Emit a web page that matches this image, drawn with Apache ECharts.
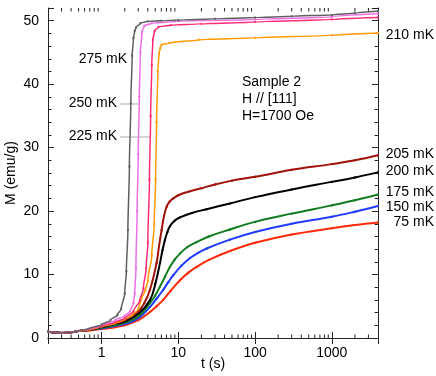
<!DOCTYPE html>
<html>
<head>
<meta charset="utf-8">
<script src="https://cdn.jsdelivr.net/npm/echarts@6/dist/echarts.min.js"></script>
<style>
html, body { margin: 0; padding: 0; background: #fff; }
#chart { width: 436px; height: 376px; }
</style>
</head>
<body>
<div id="chart"></div>
<script>
// t (s) vs M (emu/g)
const m275 = [[0.2,1.0],[0.25,0.85],[0.3,0.8],[0.4,0.9],[0.5,1.1],[0.7,1.5],[1.0,2.1],[1.3,2.8],[1.6,3.6],[1.8,4.6],[2.0,7.0],[2.1,10.5],[2.2,17],[2.3,27],[2.4,37],[2.5,44.5],[2.6,47.3],[2.7,48.4],[2.8,48.9],[3.2,49.6],[4,49.9],[6,50.0],[10,50.1],[30,50.3],[100,50.5],[300,50.7],[1000,50.9],[2000,51.2],[4000,51.5]];
const m250 = [[0.2,1.0],[0.25,0.85],[0.3,0.8],[0.4,0.9],[0.5,1.1],[0.7,1.4],[1.0,2.0],[1.5,2.8],[2.0,3.5],[2.35,4.2],[2.6,5.5],[2.7,7],[2.8,11],[2.9,20],[3.0,29],[3.1,38],[3.2,45],[3.35,48.2],[3.6,49.2],[4.5,49.6],[10,49.9],[100,50.2],[1000,50.6],[4000,51.1]];
const m225 = [[0.2,1.0],[0.25,0.85],[0.3,0.8],[0.4,0.9],[0.5,1.1],[0.7,1.4],[1.0,1.9],[1.5,2.5],[2.0,3.1],[2.6,4.2],[3.16,6.0],[3.5,7.8],[3.8,11],[4.0,15],[4.2,25],[4.35,35],[4.5,43],[4.65,47],[4.9,48.4],[5.5,49.0],[8,49.3],[20,49.5],[100,49.8],[1000,50.2],[4000,50.5]];
const m210 = [[0.2,1.0],[0.25,0.85],[0.3,0.8],[0.4,0.9],[0.5,1.1],[0.7,1.3],[1.0,1.8],[1.5,2.3],[2.0,2.9],[2.5,3.6],[3.0,4.5],[3.3,6.2],[3.7,7.5],[4.0,9],[4.5,13],[4.85,18],[5.05,25],[5.2,34],[5.4,42],[5.6,44.8],[5.8,45.7],[6.05,46.2],[7.7,46.5],[19,47.0],[100,47.3],[1000,47.7],[4000,48.05]];
const m205 = [[0.2,1.0],[0.25,0.85],[0.3,0.8],[0.4,0.9],[0.5,1.1],[0.7,1.3],[1.0,1.8],[1.5,2.3],[2.0,2.8],[3.0,4.2],[3.6,5.5],[4.27,7.6],[5.2,11.8],[5.6,14.5],[6.05,17.0],[6.5,19.2],[7.04,20.7],[7.7,21.5],[8.6,22.0],[10,22.5],[14,23.1],[20,23.6],[30,24.2],[50,24.8],[100,25.4],[300,26.5],[1000,27.4],[2000,28.0],[4000,28.8]];
const m200 = [[0.2,1.0],[0.25,0.85],[0.3,0.8],[0.4,0.9],[0.5,1.1],[0.7,1.3],[1.0,1.7],[1.5,2.2],[2.0,2.6],[3.0,3.8],[4.27,6.0],[5.0,8.5],[5.76,11.8],[6.2,13.8],[6.7,15.5],[7.2,16.7],[7.76,17.6],[9,18.5],[10.5,19.0],[15,19.7],[23.4,20.3],[47,21.2],[100,22.2],[300,23.4],[1000,24.6],[2000,25.3],[4000,26.1]];
const m175 = [[0.2,1.0],[0.25,0.85],[0.3,0.8],[0.4,0.9],[0.5,1.1],[0.7,1.3],[1.0,1.6],[1.5,2.0],[2.0,2.4],[3.0,3.4],[4.27,5.5],[5.0,6.7],[5.76,8.1],[6.7,9.7],[7.76,11.2],[9,12.4],[10.5,13.3],[13,14.3],[17.3,15.1],[25,16.0],[47,17.1],[100,18.3],[300,19.6],[1000,20.9],[2000,21.7],[4000,22.6]];
const m150 = [[0.2,1.0],[0.25,0.85],[0.3,0.8],[0.4,0.9],[0.5,1.1],[0.7,1.3],[1.0,1.5],[1.5,1.9],[2.0,2.2],[3.0,3.1],[4.27,4.9],[5.2,6.2],[6.36,7.6],[7.4,8.8],[8.6,9.9],[11,11.4],[14.2,12.6],[18,13.4],[23.4,14.1],[47,15.5],[100,16.7],[300,18.0],[1000,19.1],[2000,19.9],[4000,20.8]];
const m75 = [[0.2,1.0],[0.25,0.85],[0.3,0.8],[0.4,0.9],[0.5,1.1],[0.7,1.2],[1.0,1.4],[1.5,1.7],[2.0,2.0],[3.0,2.8],[4.27,4.1],[5.2,5.0],[6.36,6.0],[8,7.5],[10.5,9.1],[13.5,10.3],[17.3,11.2],[25,12.3],[47,13.7],[100,15.0],[300,16.3],[1000,17.3],[2000,17.8],[4000,18.2]];

const xTickLabels = [1, 10, 100, 1000];
const xMinorTicks = [0.3,0.4,0.5,0.6,0.7,0.8,0.9,2,3,4,5,6,7,8,9,20,30,40,50,60,70,80,90,200,300,400,500,600,700,800,900,2000,3000];

const FONT = 'Liberation Sans';
const AX = '#222';

function curve(name, data, color, width, mono) {
    return {
        name: name,
        type: 'line',
        data: data,
        smooth: mono ? 0.3 : 0.4,
        smoothMonotone: mono,
        symbol: 'rect',
        symbolSize: 2,
        lineStyle: { color: color, width: width },
        itemStyle: { color: color },
        animation: false,
    };
}

function xAxisDef(pos) {
    return {
        type: 'log',
        logBase: 10,
        position: pos,
        min: 0.2,
        max: 4000,
        axisLine: { show: true, lineStyle: { color: AX, width: 1 } },
        axisTick: { show: true, inside: true, length: 6, lineStyle: { color: AX } },
        splitLine: { show: false },
        axisLabel: {
            show: pos === 'bottom',
            margin: 8,
            fontFamily: FONT,
            fontSize: 14,
            color: '#000',
            showMinLabel: false,
            showMaxLabel: false,
            formatter: function (v) {
                const r = Math.round(v * 1000) / 1000;
                return xTickLabels.indexOf(r) >= 0 ? String(r) : '';
            },
        },
    };
}

function yAxisDef(pos) {
    return {
        type: 'value',
        position: pos,
        min: 0,
        max: 52,
        interval: 10,
        axisLine: { show: true, lineStyle: { color: AX, width: 1 } },
        axisTick: { show: true, inside: true, length: 6, lineStyle: { color: AX } },
        minorTick: { show: true, splitNumber: 5, length: 3.5, lineStyle: { color: AX } },
        splitLine: { show: false },
        axisLabel: {
            show: pos === 'left',
            margin: 9,
            fontFamily: FONT,
            fontSize: 14,
            color: '#000',
            showMaxLabel: false,
        },
    };
}

const xb = xAxisDef('bottom');
xb.name = 't (s)';
xb.nameLocation = 'middle';
xb.nameGap = 19;
xb.nameMoveOverlap = false;
xb.nameTextStyle = { fontFamily: FONT, fontSize: 14, color: '#000' };
const yl = yAxisDef('left');
yl.name = 'M (emu/g)';
yl.nameLocation = 'middle';
yl.nameGap = 30;
yl.nameMoveOverlap = false;
yl.nameTextStyle = { fontFamily: FONT, fontSize: 14, color: '#000' };

const option = {
    backgroundColor: '#fff',
    animation: false,
    grid: { left: 48, right: 58, top: 8, bottom: 38, outerBoundsMode: 'none', containLabel: false },
    xAxis: [xb, xAxisDef('top')],
    yAxis: [yl, yAxisDef('right')],
    series: [
        {
            type: 'custom',
            silent: true,
            z: 10,
            data: xMinorTicks.map(function (v) { return [v, 0]; }),
            renderItem: function (params, api) {
                const t = api.value(0);
                const b = api.coord([t, 0]);
                const tp = api.coord([t, 52]);
                return {
                    type: 'group',
                    children: [
                        { type: 'line', shape: { x1: b[0], y1: b[1], x2: b[0], y2: b[1] - 3.5 }, style: { stroke: AX, lineWidth: 1 } },
                        { type: 'line', shape: { x1: tp[0], y1: tp[1], x2: tp[0], y2: tp[1] + 3.5 }, style: { stroke: AX, lineWidth: 1 } },
                    ],
                };
            },
        },
        curve('75 mK', m75, '#ff2a0a', 2),
        curve('150 mK', m150, '#1f3cff', 2),
        curve('175 mK', m175, '#127d1e', 2),
        curve('200 mK', m200, '#000000', 2),
        curve('205 mK', m205, '#a11208', 2),
        curve('210 mK', m210, '#ff9a00', 1.5, 'y'),
        curve('225 mK', m225, '#ff2a7a', 1.5, 'y'),
        curve('250 mK', m250, '#ee6ee8', 1.5, 'y'),
        curve('275 mK', m275, '#5f5f5f', 1.5, 'y'),
    ],
    graphic: [
        { type: 'text', left: 242, top: 74, style: { text: 'Sample 2\nH // [111]\nH=1700 Oe', font: '14px ' + FONT, fill: '#000', lineHeight: 17 } },
        { type: 'text', right: 309, top: 52, style: { text: '275 mK', font: '14px ' + FONT, fill: '#000' } },
        { type: 'text', right: 319, top: 96, style: { text: '250 mK', font: '14px ' + FONT, fill: '#000' } },
        { type: 'text', right: 319, top: 129, style: { text: '225 mK', font: '14px ' + FONT, fill: '#000' } },
        { type: 'line', shape: { x1: 120, y1: 104, x2: 138, y2: 104 }, style: { stroke: '#aaa', lineWidth: 1 } },
        { type: 'line', shape: { x1: 120, y1: 137, x2: 150, y2: 137 }, style: { stroke: '#aaa', lineWidth: 1 } },
        { type: 'text', right: 2, top: 28, style: { text: '210 mK', font: '14px ' + FONT, fill: '#000' } },
        { type: 'text', right: 2, top: 147, style: { text: '205 mK', font: '14px ' + FONT, fill: '#000' } },
        { type: 'text', right: 2, top: 164, style: { text: '200 mK', font: '14px ' + FONT, fill: '#000' } },
        { type: 'text', right: 2, top: 185, style: { text: '175 mK', font: '14px ' + FONT, fill: '#000' } },
        { type: 'text', right: 2, top: 200, style: { text: '150 mK', font: '14px ' + FONT, fill: '#000' } },
        { type: 'text', right: 2, top: 215, style: { text: '75 mK', font: '14px ' + FONT, fill: '#000' } },
    ],
};

const chart = echarts.init(document.getElementById('chart'));
chart.setOption(option);
window.addEventListener('resize', () => {
    chart.resize();
});
</script>
</body>
</html>
